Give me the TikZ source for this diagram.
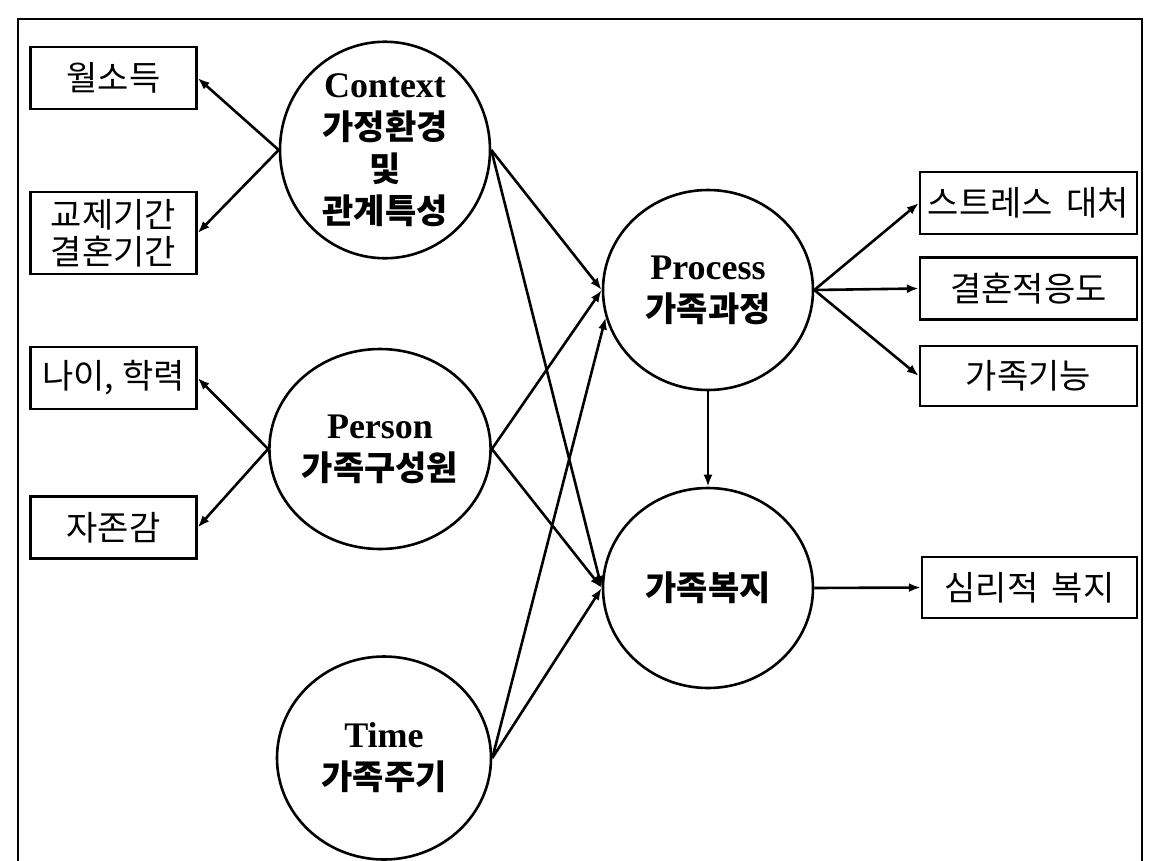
\documentclass[tikz,border=0pt]{standalone}
\usepackage{fontspec}
\setmainfont{Liberation Serif}
\newfontfamily\krfont{Noto Sans CJK KR}
\usepackage{tikz}
\usetikzlibrary{arrows.meta,shapes.geometric}

\newcommand{\kb}{\krfont\bfseries\fontsize{34}{42}\selectfont}

\begin{document}
\begin{tikzpicture}[x=1pt, y=-1pt, >={Latex[length=12pt,width=9pt]},
                    main node/.style={ellipse,draw,line width=2.6pt,inner sep=0pt,minimum width=210pt,minimum height=200pt,
                                      align=center,font=\bfseries\fontsize{36}{42}\selectfont},
                    box node/.style={rectangle,draw,line width=2.4pt,inner sep=0pt,minimum width=166pt,minimum height=62pt,
                                     align=center,font=\krfont\fontsize{34}{37}\selectfont}]
  \useasboundingbox (0,0) rectangle (1149,860);
  \draw[line width=2.4pt] (18,19) rectangle (1142,900);

  \node[main node] (ctx) at (385,150) {Context\\{\kb 가정환경}\\{\kb 및}\\{\kb 관계특성}};
  \node[main node] (per) at (380,449) {Person\\{\kb 가족구성원}};
  \node[main node, minimum width=214pt, minimum height=203pt] (tim) at (384,758) {Time\\{\kb 가족주기}};
  \node[main node] (proc) at (708,290) {Process\\{\kb 가족과정}};
  \node[main node] (welf) at (708,588) {{\kb 가족복지}};

  \node[box node] (inc) at (113.5,78) {월소득};
  \node[box node, minimum height=82pt] (dur) at (113.5,233) {교제기간\\결혼기간};
  \node[box node] (age) at (113.5,378) {나이, 학력};
  \node[box node] (est) at (113.5,527.5) {자존감};

  \node[box node, minimum width=217pt] (strs) at (1028.5,203) {스트레스\hspace{0.4em}대처};
  \node[box node, minimum width=217pt] (adj) at (1028.5,288.5) {결혼적응도};
  \node[box node, minimum width=217pt, minimum height=60pt] (func) at (1028.5,376) {가족기능};
  \node[box node, minimum width=215pt, minimum height=61pt] (psy) at (1029.5,587.5) {심리적\hspace{0.4em}복지};

  \path[->, line width=2.6pt]
    (ctx.west) edge (inc.east)
               edge (dur.east)
    (ctx.east) edge (proc.west)
               edge (welf.west)

    (per.west) edge (age.east)
               edge (est.east)
    (per.east) edge (proc.west)
               edge (welf.west)

    (tim.east) edge (proc.195)
               edge (welf.west)

    (proc.east) edge (strs.west)
                edge (adj.west)
                edge (func.west)
    (proc.south) edge (welf.north)

    (welf.east) edge (psy.west);
\end{tikzpicture}
\end{document}
